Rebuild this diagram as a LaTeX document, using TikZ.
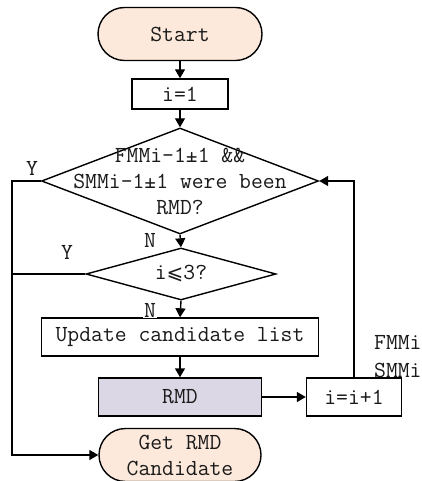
\documentclass[tikz,border=0pt]{standalone}
\usepackage{fontspec}
\newfontfamily\symfont{DejaVu Sans}
\usetikzlibrary{shapes.geometric,arrows.meta}
\definecolor{peach}{HTML}{FCE9DB}
\definecolor{lav}{HTML}{DCD7E5}
\definecolor{txt}{HTML}{1A1A1A}
\tikzset{
  base/.style={draw=black, line width=1.4pt, inner sep=0pt, text=txt, font=\ttfamily\fontsize{23}{26}\selectfont},
  term/.style={base, fill=peach, rounded corners=26.5pt, minimum height=53pt},
  box/.style={base, fill=white, minimum height=38pt},
  dia/.style={base, diamond, fill=white},
  lab/.style={text=txt, font=\ttfamily\fontsize{23}{26}\selectfont, inner sep=1pt},
  conn/.style={line width=1.4pt, -{Triangle[length=9pt,width=10pt]}},
  line/.style={line width=1.4pt}
}
\begin{document}
\begin{tikzpicture}[x=1pt,y=-1pt]
\useasboundingbox (0,0) rectangle (422,481);
\node[term, minimum width=164pt] (start) at (180,34) {Start};
\node[box, minimum width=96pt, minimum height=30pt] (i1) at (180,94) {i=1};
\node[dia, minimum width=277pt, minimum height=106pt] (d1) at (180,181) {};
\node[lab, align=center] (d1t) at (180,181) {FMMi-1±1 \&\&\\SMMi-1±1 were been\\RMD?};
\node[dia, minimum width=190pt, minimum height=52pt] (d2) at (181,274) {};
\node[lab] (d2t) at (181,274) {i{\symfont\fontsize{20}{26}\selectfont ⩽}3?};
\node[box, minimum width=277pt] (upd) at (180,337) {Update candidate list};
\node[box, fill=lav, minimum width=163pt] (rmd) at (180,397) {RMD};
\node[box, minimum width=95pt] (inc) at (354,397) {i=i+1};
\node[term, minimum width=162pt, align=center] (get) at (180,455) {Get RMD\\Candidate};
\coordinate (lt) at (12,181);
\coordinate (lb) at (12,455);
\coordinate (l2) at (12,274);
\coordinate (rt) at (354,181);
\draw[conn] (start) -- (i1);
\draw[conn] (i1) -- (d1.north);
\draw[conn] (d1.south) -- (d2.north);
\draw[conn] (d2.south) -- (upd.north);
\draw[conn] (upd) -- (rmd);
\draw[conn] (rmd) -- (inc);
\draw[conn] (inc.north) -- (rt) -- (d1.east);
\draw[conn] (d1.west) -- (lt) -- (lb) -- (get.west);
\draw[line] (d2.west) -- (l2);
\node[lab, fill=white] (y1) at (32,168) {Y};
\node[lab] (y2) at (67,252) {Y};
\node[lab] (n1) at (150,240) {N};
\node[lab, fill=white] (n2) at (150,310) {N};
\node[lab, anchor=west] (f1) at (373,342) {FMMi};
\node[lab, anchor=west] (s1) at (373,370) {SMMi};
\end{tikzpicture}
\end{document}
